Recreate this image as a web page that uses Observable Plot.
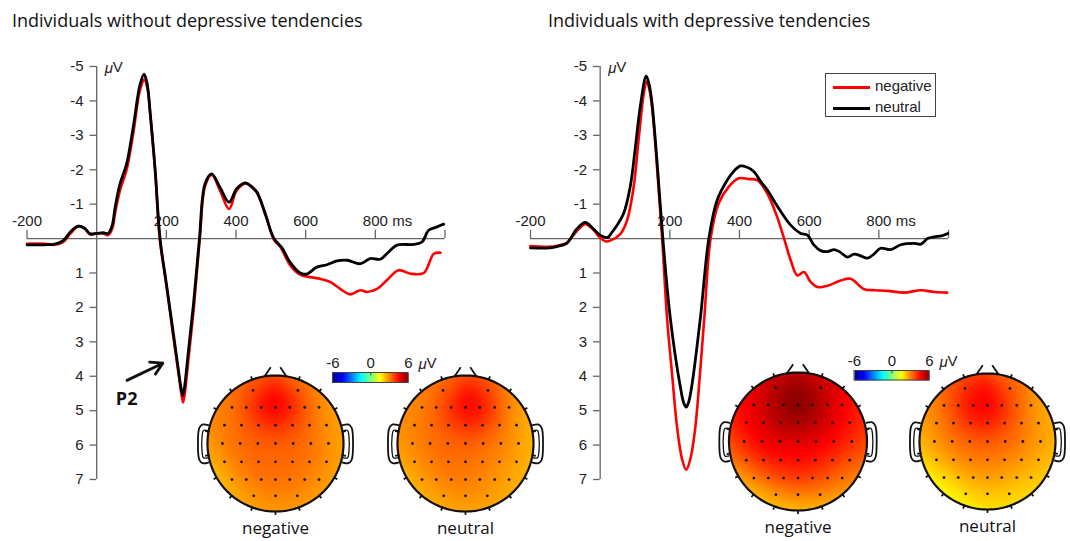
<!DOCTYPE html>
<html><head><meta charset="utf-8">
<script src="https://cdn.jsdelivr.net/npm/d3@7"></script>
<script src="https://cdn.jsdelivr.net/npm/@observablehq/plot@0.6"></script>
<style>
body{margin:0;background:#fff}
#chart{position:relative;width:1070px;height:541px;background:#fff;overflow:hidden}
#chart svg{position:absolute;left:0;top:0;max-width:none}
.title{position:absolute;font-family:"Open Sans";font-size:18px;color:#111;white-space:nowrap;line-height:24px}
.legend{position:absolute;left:825px;top:73px;width:111px;height:44px;box-sizing:border-box;border:1px solid #444;background:#fff;font-family:"Liberation Sans";font-size:15px;color:#222}
.legend .row{position:absolute;left:7px;height:18px;line-height:18px;white-space:nowrap}
.legend .sw{display:inline-block;width:37px;height:3px;vertical-align:middle;margin-right:5px}
</style></head><body>
<div id="chart">
  <div class="title" style="left:12px;top:8px">Individuals without depressive tendencies</div>
  <div class="title" style="left:548px;top:8px">Individuals with depressive tendencies</div>
</div>
<script>
// ---------------- data ----------------
const xTicks = [-200, 200, 400, 600, 800, 1000];
const xTickLabels = [-200, 200, 400, 600, 800];
const yTicks = [-5, -4, -3, -2, -1, 1, 2, 3, 4, 5, 6, 7];
const colorbarLabels = [-6, 0, 6];

// [time ms, amplitude µV]
const leftNeutral = [[-200,0.18],[-150,0.18],[-120,0.16],[-96,0.06],[-75,-0.2],[-53,-0.36],[-35,-0.3],[-19,-0.14],[0,-0.15],[19,-0.17],[33,-0.15],[45,-0.4],[53,-0.91],[67,-1.59],[86,-2.17],[105,-3.24],[124,-4.45],[136,-4.78],[145,-4.5],[153,-3.72],[168,-1.98],[182,0],[200,1.3],[218,2.6],[233,3.7],[242,4.33],[247,4.56],[252,4.33],[262,3.4],[278,1.9],[295,0],[311,-1.59],[330,-1.88],[354,-1.49],[380,-1.06],[402,-1.45],[426,-1.62],[445,-1.5],[460,-1.35],[484,-0.72],[508,-0.02],[532,0.27],[556,0.7],[584,1.0],[603,1.03],[632,0.83],[661,0.76],[690,0.65],[719,0.63],[757,0.73],[785,0.58],[814,0.6],[838,0.39],[862,0.19],[910,0.17],[934,0.1],[953,-0.24],[977,-0.34],[996,-0.42]];
const leftNegative = [[-200,0.15],[-150,0.15],[-120,0.18],[-96,0.1],[-75,-0.15],[-53,-0.36],[-35,-0.3],[-19,-0.12],[0,-0.15],[19,-0.15],[33,-0.1],[45,-0.3],[53,-0.75],[67,-1.4],[86,-2.0],[105,-3.05],[124,-4.3],[137,-4.62],[146,-4.35],[154,-3.6],[168,-1.95],[181,0],[200,1.35],[218,2.7],[234,3.85],[243,4.5],[248,4.76],[253,4.5],[263,3.55],[279,2.0],[296,0],[312,-1.55],[331,-1.85],[354,-1.4],[380,-0.86],[402,-1.4],[428,-1.6],[447,-1.5],[462,-1.3],[486,-0.65],[510,0.05],[527,0.24],[556,0.78],[584,1.05],[613,1.12],[642,1.17],[670,1.26],[699,1.46],[728,1.62],[757,1.5],[776,1.55],[805,1.46],[833,1.21],[867,0.92],[901,1.02],[939,1.0],[968,0.44],[987,0.41]];
const rightNeutral = [[-200,0.27],[-144,0.27],[-120,0.22],[-96,0.14],[-67,-0.28],[-43,-0.47],[-19,-0.28],[0,-0.1],[21,-0.03],[35,-0.2],[48,-0.38],[67,-0.72],[86,-1.49],[101,-2.65],[115,-3.82],[132,-4.72],[140,-4.5],[148,-4.01],[163,-2.27],[180,0],[201,2.28],[230,4.3],[240,4.78],[247,4.9],[254,4.75],[264,4.22],[288,2.28],[312,0],[336,-1.12],[365,-1.7],[383,-1.95],[403,-2.11],[420,-2.08],[441,-1.95],[460,-1.67],[480,-1.41],[508,-0.95],[547,-0.39],[576,-0.15],[595,-0.1],[614,0.19],[633,0.35],[652,0.38],[672,0.32],[690,0.4],[710,0.54],[729,0.45],[748,0.5],[767,0.57],[786,0.45],[805,0.28],[835,0.32],[863,0.18],[902,0.14],[921,0.16],[940,0.0],[959,-0.05],[980,-0.08],[998,-0.15]];
const rightNegative = [[-200,0.22],[-150,0.24],[-120,0.2],[-96,0.12],[-67,-0.22],[-43,-0.42],[-19,-0.25],[0,-0.02],[15,0.08],[29,0.06],[57,-0.12],[77,-0.52],[96,-1.49],[110,-2.84],[125,-4.2],[133,-4.57],[141,-4.35],[150,-3.72],[164,-1.98],[178,0],[192,2.3],[207,4.0],[221,5.5],[235,6.4],[247,6.72],[259,6.4],[273,5.5],[286,4.0],[299,2.3],[317,0],[340,-1.02],[369,-1.5],[398,-1.75],[425,-1.73],[451,-1.7],[480,-1.31],[508,-0.63],[528,0],[547,0.63],[566,1.07],[585,0.97],[604,1.26],[624,1.41],[653,1.37],[690,1.22],[719,1.17],[758,1.47],[790,1.5],[825,1.52],[873,1.57],[921,1.5],[959,1.55],[996,1.57]];

// P2 annotation (data units of the left panel)
const p2Arrow = [{x1: 87, y1: 4.12, x2: 190, y2: 3.62}];
const p2Label = ["P2"];

// electrode montage (normalised head coordinates, y down = posterior)
const rowY = [-0.78, -0.53, -0.27, 0, 0.27, 0.53, 0.77];
const rowX = [
  [-0.33, 0.33],
  [-0.64, -0.43, -0.21, 0, 0.21, 0.43, 0.64],
  [-0.75, -0.5, -0.25, 0, 0.25, 0.5, 0.75],
  [-0.78, -0.52, -0.26, 0, 0.26, 0.52, 0.78],
  [-0.75, -0.5, -0.25, 0, 0.25, 0.5, 0.75],
  [-0.64, -0.43, -0.21, 0, 0.21, 0.43, 0.64],
  [-0.32, 0, 0.32]
];
const rimAngles = [20, 40, 60, 80, 100, 120, 140, 160, 180, 200, 220, 240, 260, 280, 300, 320, 340];

// topography values (µV) per electrode row, and rim electrodes
const leftNegTopo = [[3.7,3.5],[3.0,3.5,5.1,5.4,5.0,3.4,2.9],[3.1,3.3,3.5,3.9,3.4,3.2,2.9],[3.1,3.3,3.3,3.4,3.4,3.2,2.9],[3.0,3.3,3.4,3.2,3.3,3.2,2.9],[2.8,3.1,3.2,3.3,3.2,3.1,2.8],[2.8,3.0,2.9]];
const leftNegRim = [2.9,2.5,2.3,2.3,2.3,2.4,2.4,2.5,2.5,2.4,2.0,1.5,2.1,2.6,2.8,2.9,3.1];
const leftNeuTopo = [[3.4,4.1],[2.9,3.3,4.3,5.2,5.2,3.7,2.8],[3.0,3.2,3.4,4.0,3.8,3.2,2.7],[3.0,3.2,3.3,3.3,3.2,3.0,2.7],[2.9,3.2,3.3,3.2,3.1,3.0,2.6],[2.7,3.0,3.1,3.1,3.0,2.8,2.5],[2.7,2.9,2.7]];
const leftNeuRim = [2.9,2.4,2.2,2.1,2.1,2.2,2.3,2.4,2.4,2.3,2.1,1.9,2.3,2.6,2.7,2.8,3.0];
const rightNegTopo = [[5.5,5.3],[4.7,5.3,6.2,6.4,6.2,5.1,4.5],[4.6,4.9,5.4,5.6,5.3,4.8,4.3],[4.4,4.7,4.8,4.8,4.7,4.5,4.1],[3.9,4.3,4.5,4.5,4.4,4.1,3.7],[3.1,3.6,3.9,4.0,3.9,3.6,3.1],[2.6,3.0,2.8]];
const rightNegRim = [4.8,4.4,4.0,3.6,3.1,2.6,2.1,1.9,1.8,1.7,1.4,1.7,2.7,3.5,4.1,4.5,4.8];
const rightNeuTopo = [[4.5,3.7],[3.1,4.1,5.0,5.1,4.6,3.3,2.8],[3.0,3.3,4.1,4.3,3.7,3.1,2.7],[2.8,3.1,3.3,3.4,3.3,3.1,2.7],[2.6,3.0,3.2,3.2,3.1,2.9,2.5],[1.9,2.4,2.6,2.7,2.6,2.4,2.1],[1.9,2.2,2.1]];
const rightNeuRim = [3.0,2.4,2.2,2.2,2.1,1.9,1.7,1.6,1.6,1.4,0.8,1.0,1.8,2.2,2.5,2.8,3.1];

// head outline shapes (normalised head units)
const earLeftOuter = [[-0.99,-0.27],[-1.07,-0.28],[-1.12,-0.23],[-1.14,0.0],[-1.12,0.24],[-1.07,0.29],[-0.99,0.28]];
const earLeftInner = [[-1.0,-0.19],[-1.06,-0.19],[-1.08,-0.1],[-1.08,0.12],[-1.06,0.21],[-1.0,0.21]];
const noseStrokes = [{x1:-0.16,y1:-0.99,x2:-0.07,y2:-1.12},{x1:0.16,y1:-0.99,x2:0.07,y2:-1.12}];

// ---------------- drawing ----------------
const W = 1070, H = 541;
const axisColor = "#666", textColor = "#222";
const tickFont = "Liberation Sans";
const chart = document.getElementById("chart");
const baseStyle = {background: "transparent", overflow: "visible", fontFamily: tickFont};
const jet = {type: "linear", domain: [-6, -4.5, -1.5, 1.5, 4.5, 6],
  range: ["#00008f", "#0000ff", "#00ffff", "#ffff00", "#ff0000", "#800000"]};

function erp(xRange, neg, neu, extra = []) {
  const X = d => d[0], Y = d => d[1];
  return Plot.plot({
    width: W, height: H, margin: 0, style: baseStyle,
    x: {domain: [-200, 1000], range: xRange, axis: null},
    y: {domain: [-5, 7], range: [66, 479], axis: null},
    marks: [
      Plot.ruleY([0], {x1: -200, x2: 1000, stroke: axisColor, strokeWidth: 1.3}),
      Plot.ruleX([0], {y1: -5, y2: 7, stroke: axisColor, strokeWidth: 1.3}),
      Plot.ruleX(xTicks, {x: d => d, y1: 0, y2: -0.24, stroke: axisColor, strokeWidth: 1.3}),
      Plot.ruleY(yTicks, {y: d => d, x1: -19, x2: 0, stroke: axisColor, strokeWidth: 1.3}),
      Plot.text(xTickLabels, {x: d => d, y: 0, dy: -17, text: d => String(d), fontSize: 15, fill: textColor}),
      Plot.text(["ms"], {x: 800, y: 0, dy: -17, dx: 17, textAnchor: "start", fontSize: 15, fill: textColor}),
      Plot.text(yTicks, {x: 0, y: d => d, dx: -13, textAnchor: "end", text: d => String(d), fontSize: 15, fill: textColor}),
      Plot.text(["\u03bc"], {x: 0, y: -5, dx: 8, dy: 2, textAnchor: "start", fontSize: 15, fontStyle: "italic", fill: textColor}),
      Plot.text(["V"], {x: 0, y: -5, dx: 16, dy: 1, textAnchor: "start", fontSize: 15, fill: textColor}),
      Plot.line(neg, {x: X, y: Y, stroke: "#ff0000", strokeWidth: 2.6, curve: "catmull-rom"}),
      Plot.line(neu, {x: X, y: Y, stroke: "#000", strokeWidth: 2.8, curve: "catmull-rom"}),
      ...extra
    ]
  });
}

function gauss(index, w, h, X, Y, V) {
  const out = new Array(w * h);
  const cx = w / 2, cy = h / 2, R = Math.min(w, h) / 2;
  const s2 = 2 * Math.pow(0.22 * R, 2);
  const numeric = typeof V[index[0]] === "number";
  const cols = numeric ? null : Array.from(index, i => d3.rgb(V[i]));
  for (let py = 0; py < h; py++) for (let px = 0; px < w; px++) {
    const k = py * w + px;
    const dx = px + 0.5 - cx, dy = py + 0.5 - cy;
    if (dx * dx + dy * dy > (R + 0.5) * (R + 0.5)) { out[k] = numeric ? NaN : null; continue; }
    let sw = 0, sv = 0, sr = 0, sg = 0, sb = 0;
    for (let m = 0; m < index.length; m++) {
      const i = index[m];
      const ex = X[i] - px - 0.5, ey = Y[i] - py - 0.5;
      const wt = Math.exp(-(ex * ex + ey * ey) / s2);
      sw += wt;
      if (numeric) sv += wt * V[i];
      else { sr += wt * cols[m].r; sg += wt * cols[m].g; sb += wt * cols[m].b; }
    }
    out[k] = numeric ? sv / sw : `rgb(${Math.round(sr / sw)},${Math.round(sg / sw)},${Math.round(sb / sw)})`;
  }
  return out;
}

function head(cx, cy, r, topo, rim, label) {
  const pts = [];
  rowY.forEach((y, i) => rowX[i].forEach((x, j) => pts.push({x, y, v: topo[i][j]})));
  const rimPts = rimAngles.map((a, i) => ({x: Math.sin(a * Math.PI / 180), y: -Math.cos(a * Math.PI / 180), v: rim[i]}));
  const circle = d3.range(0, 361, 2).map(a => [Math.sin(a * Math.PI / 180), -Math.cos(a * Math.PI / 180)]);
  const mirror = s => s.map(([x, y]) => [-x, y]);
  const L = (data, o = {}) => Plot.line(data, {x: d => d[0], y: d => d[1], stroke: "#111", strokeWidth: 1.8, ...o});
  return Plot.plot({
    width: W, height: H, margin: 0, style: baseStyle,
    x: {domain: [-1, 1], range: [cx - r, cx + r], axis: null},
    y: {domain: [-1, 1], range: [cy - r, cy + r], axis: null},
    color: jet,
    marks: [
      Plot.raster(pts.concat(rimPts), {x: "x", y: "y", fill: "v", x1: -1, x2: 1, y1: -1, y2: 1, interpolate: gauss}),
      L(earLeftOuter, {curve: "catmull-rom"}), L(earLeftInner, {curve: "catmull-rom", strokeWidth: 1.3}),
      L(mirror(earLeftOuter), {curve: "catmull-rom"}), L(mirror(earLeftInner), {curve: "catmull-rom", strokeWidth: 1.3}),
      Plot.link(noseStrokes, {x1: "x1", y1: "y1", x2: "x2", y2: "y2", stroke: "#111", strokeWidth: 1.8}),
      Plot.link(rimPts, {x1: d => d.x * 0.99, y1: d => d.y * 0.99, x2: d => d.x * 1.05, y2: d => d.y * 1.05, stroke: "#111", strokeWidth: 1.8}),
      L(circle, {strokeWidth: 2.2}),
      Plot.dot(pts, {x: "x", y: "y", r: 1.4, fill: "#111"}),
      Plot.text([label], {x: 0, y: 1, dy: 17, fontFamily: "Open Sans", fontSize: 17, fill: "#111"})
    ]
  });
}

function colorbar(xRange, yRange) {
  return Plot.plot({
    width: W, height: H, margin: 0, style: baseStyle,
    x: {domain: [-6, 6], range: xRange, axis: null},
    y: {domain: [0, 1], range: yRange, axis: null},
    color: jet,
    marks: [
      Plot.raster({x1: -6, x2: 6, y1: 0, y2: 1, fill: (x, y) => x}),
      Plot.rect([0], {x1: -6, x2: 6, y1: 0, y2: 1, stroke: "#444", fill: "none", strokeWidth: 1}),
      Plot.ruleX([0], {y1: 0, y2: 0.3, stroke: "#444"}),
      Plot.text(colorbarLabels, {x: d => d, y: 0, dy: -10, text: d => String(d), fontSize: 15, fill: textColor}),
      Plot.text(["\u03bc"], {x: 6, y: 0, dy: -9, dx: 10, textAnchor: "start", fontSize: 15, fontStyle: "italic", fill: textColor}),
      Plot.text(["V"], {x: 6, y: 0, dy: -10, dx: 18, textAnchor: "start", fontSize: 15, fill: textColor})
    ]
  });
}

const p2Marks = [
  Plot.arrow(p2Arrow, {x1: "x1", y1: "y1", x2: "x2", y2: "y2", stroke: "#111", strokeWidth: 2.8, headLength: 12}),
  Plot.text(p2Label, {x: 86, y: 4.68, fontFamily: "Open Sans", fontWeight: "bold", fontSize: 18, fill: "#111"})
];

chart.append(erp([26.5, 444.5], leftNegative, leftNeutral, p2Marks));
chart.append(erp([530, 948], rightNegative, rightNeutral));
chart.append(head(275, 443, 68, leftNegTopo, leftNegRim, "negative"));
chart.append(head(465, 443, 68, leftNeuTopo, leftNeuRim, "neutral"));
chart.append(head(797.5, 441, 69, rightNegTopo, rightNegRim, "negative"));
chart.append(head(987, 441, 68, rightNeuTopo, rightNeuRim, "neutral"));
chart.append(colorbar([332.5, 408], [372.5, 382.5]));
chart.append(colorbar([854, 929], [370.5, 380]));

// legend
const legend = document.createElement("div");
legend.className = "legend";
legend.innerHTML = '<div class="row" style="top:3px"><span class="sw" style="background:#ff0000"></span>negative</div>' +
  '<div class="row" style="top:24px"><span class="sw" style="background:#000"></span>neutral</div>';
chart.append(legend);
</script>
</body></html>
